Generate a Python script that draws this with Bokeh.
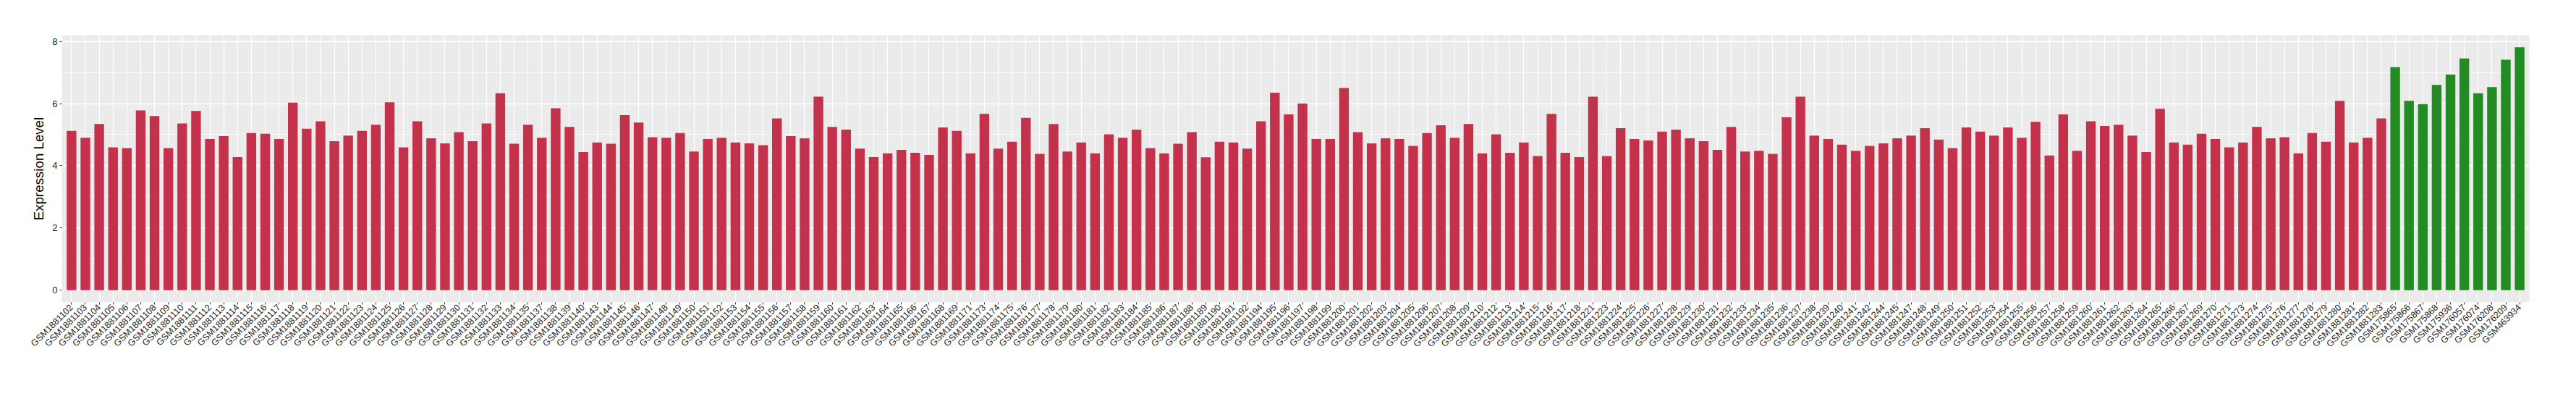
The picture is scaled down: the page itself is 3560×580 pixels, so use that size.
import math
from bokeh.plotting import figure
from bokeh.models import FactorRange, Range1d, SingleIntervalTicker, ColumnDataSource
from bokeh.embed import file_html
from bokeh.resources import INLINE

red_samples = [
    "GSM1881102", "GSM1881103", "GSM1881104", "GSM1881105", "GSM1881106", "GSM1881107", "GSM1881108", "GSM1881109",
    "GSM1881110", "GSM1881111", "GSM1881112", "GSM1881113", "GSM1881114", "GSM1881115", "GSM1881116", "GSM1881117",
    "GSM1881118", "GSM1881119", "GSM1881120", "GSM1881121", "GSM1881122", "GSM1881123", "GSM1881124", "GSM1881125",
    "GSM1881126", "GSM1881127", "GSM1881128", "GSM1881129", "GSM1881130", "GSM1881131",
    "GSM1881132", "GSM1881133", "GSM1881134", "GSM1881135", "GSM1881137", "GSM1881138", "GSM1881139", "GSM1881140",
    "GSM1881143", "GSM1881144", "GSM1881145", "GSM1881146", "GSM1881147", "GSM1881148", "GSM1881149",
    "GSM1881150", "GSM1881151", "GSM1881152", "GSM1881153", "GSM1881154", "GSM1881155", "GSM1881156", "GSM1881157",
    "GSM1881158", "GSM1881159", "GSM1881160", "GSM1881161", "GSM1881162", "GSM1881163", "GSM1881164",
    "GSM1881165", "GSM1881166", "GSM1881167", "GSM1881168", "GSM1881169", "GSM1881171", "GSM1881173", "GSM1881174",
    "GSM1881175", "GSM1881176", "GSM1881177", "GSM1881178", "GSM1881179", "GSM1881180", "GSM1881181",
    "GSM1881182", "GSM1881183", "GSM1881184", "GSM1881185", "GSM1881186", "GSM1881187", "GSM1881188", "GSM1881189",
    "GSM1881190", "GSM1881191", "GSM1881192", "GSM1881194", "GSM1881195", "GSM1881196", "GSM1881197",
    "GSM1881198", "GSM1881199", "GSM1881200", "GSM1881201", "GSM1881202", "GSM1881203", "GSM1881204", "GSM1881205",
    "GSM1881206", "GSM1881207", "GSM1881208", "GSM1881209", "GSM1881210", "GSM1881212", "GSM1881213",
    "GSM1881214", "GSM1881215", "GSM1881216", "GSM1881217", "GSM1881218", "GSM1881221", "GSM1881223", "GSM1881224",
    "GSM1881225", "GSM1881226", "GSM1881227", "GSM1881228", "GSM1881229", "GSM1881230", "GSM1881231",
    "GSM1881232", "GSM1881233", "GSM1881234", "GSM1881235", "GSM1881236", "GSM1881237", "GSM1881238", "GSM1881239",
    "GSM1881240", "GSM1881241", "GSM1881242", "GSM1881244", "GSM1881245", "GSM1881247", "GSM1881248",
    "GSM1881249", "GSM1881250", "GSM1881251", "GSM1881252", "GSM1881253", "GSM1881254", "GSM1881255", "GSM1881256",
    "GSM1881257", "GSM1881258", "GSM1881259", "GSM1881260", "GSM1881261", "GSM1881262", "GSM1881263", "GSM1881264",
    "GSM1881265", "GSM1881266", "GSM1881267", "GSM1881269", "GSM1881270", "GSM1881271", "GSM1881273", "GSM1881274",
    "GSM1881275", "GSM1881276", "GSM1881277", "GSM1881278", "GSM1881279", "GSM1881280", "GSM1881281",
    "GSM1881282", "GSM1881283",
]

red_values = [
    5.12, 4.90, 5.34, 4.59, 4.57, 5.78, 5.60, 4.57, 5.36, 5.76, 4.86, 4.95, 4.28, 5.05, 5.03,
    4.86, 6.03, 5.19, 5.43, 4.79, 4.97, 5.12, 5.32, 6.04, 4.59, 5.43, 4.88, 4.72, 5.08, 4.79,
    5.36, 6.33, 4.71, 5.32, 4.90, 5.85, 5.25, 4.44, 4.75, 4.71, 5.63, 5.39, 4.92, 4.90, 5.05,
    4.46, 4.86, 4.90, 4.75, 4.72, 4.66, 5.52, 4.95, 4.88, 6.22, 5.25, 5.16, 4.55, 4.28, 4.40,
    4.51, 4.42, 4.35, 5.23, 5.12, 4.40, 5.67, 4.55, 4.77, 5.54, 4.38, 5.34, 4.46, 4.75, 4.40,
    5.01, 4.90, 5.16, 4.57, 4.40, 4.71, 5.08, 4.27, 4.77, 4.75, 4.55, 5.43, 6.35, 5.65, 6.00,
    4.86, 4.86, 6.50, 5.08, 4.72, 4.88, 4.86, 4.64, 5.05, 5.30, 4.90, 5.34, 4.40, 5.01, 4.42,
    4.75, 4.31, 5.67, 4.42, 4.28, 6.22, 4.31, 5.21, 4.86, 4.81, 5.10, 5.16, 4.88, 4.79, 4.51,
    5.25, 4.46, 4.48, 4.38, 5.56, 6.22, 4.97, 4.86, 4.68, 4.48, 4.64, 4.72, 4.88, 4.97, 5.21,
    4.84, 4.57, 5.23, 5.10, 4.97, 5.23, 4.90, 5.41, 4.33, 5.65, 4.48, 5.43, 5.28, 5.32, 4.97, 4.44,
    5.83, 4.75, 4.68, 5.03, 4.86, 4.59, 4.75, 5.25, 4.88, 4.92, 4.40, 5.05, 4.77, 6.09, 4.75,
    4.90, 5.52,
]

green_samples = [
    "GSM175865", "GSM175866", "GSM175867", "GSM175868", "GSM175936",
    "GSM176057", "GSM176074", "GSM176208", "GSM176209", "GSM463934",
]
green_values = [7.17, 6.09, 5.98, 6.60, 6.93, 7.45, 6.33, 6.53, 7.41, 7.81]

red_color = "#C3314A"
green_color = "#228B22"

samples = red_samples + green_samples
values = red_values + green_values
colors = [red_color] * len(red_samples) + [green_color] * len(green_samples)

src = ColumnDataSource(data=dict(sample=samples, value=values, color=colors))

p = figure(
    x_range=FactorRange(factors=samples, range_padding=0.2, range_padding_units="absolute"),
    y_range=Range1d(-0.39, 8.2),
    width=3544, height=550,
    output_backend="svg", toolbar_location=None,
    min_border_left=85, min_border_right=49, min_border_top=48, min_border_bottom=133,
)

p.vbar(x="sample", top="value", bottom=0, width=0.7, fill_color="color", line_color=None, source=src)

p.background_fill_color = "#EBEBEB"
p.border_fill_color = "white"
p.outline_line_color = None

p.xgrid.grid_line_color = "white"
p.xgrid.grid_line_width = 1.2
p.ygrid.grid_line_color = "white"
p.ygrid.grid_line_width = 1.3
p.ygrid.minor_grid_line_color = "white"
p.ygrid.minor_grid_line_width = 0.7

p.yaxis.ticker = SingleIntervalTicker(interval=2, num_minor_ticks=2)

for ax in (p.xaxis[0], p.yaxis[0]):
    ax.axis_line_color = None
    ax.major_tick_line_color = "#333333"
    ax.major_tick_line_width = 1
    ax.major_tick_out = 3
    ax.major_tick_in = 0
    ax.minor_tick_line_color = None
    ax.major_label_text_font = "Liberation Sans"
    ax.major_label_text_color = "#262626"
    ax.major_label_standoff = 2

p.yaxis.major_label_text_font_size = "13px"
p.xaxis.major_label_text_font_size = "12.5px"
p.xaxis.major_label_orientation = math.pi / 4

p.yaxis.axis_label = "Expression Level"
p.yaxis.axis_label_text_font = "Liberation Sans"
p.yaxis.axis_label_text_font_size = "18.7px"
p.yaxis.axis_label_text_font_style = "normal"
p.yaxis.axis_label_text_color = "black"
p.yaxis.axis_label_standoff = 5

open("out.html", "w").write(file_html(p, INLINE))
